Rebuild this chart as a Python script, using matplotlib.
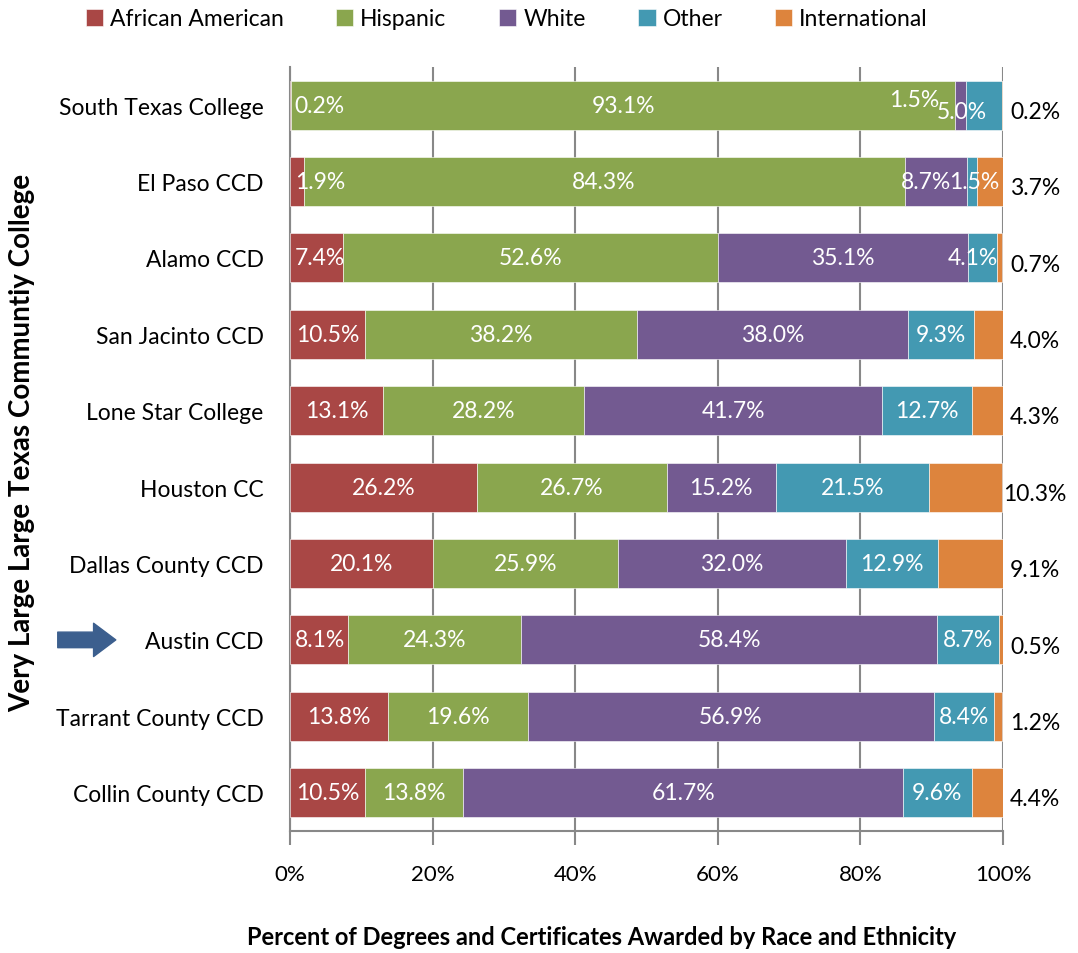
import matplotlib.pyplot as plt
import numpy as np
from matplotlib.transforms import blended_transform_factory

plt.rcParams['font.family'] = ['Lato', 'DejaVu Sans']

colleges = ['South Texas College', 'El Paso CCD', 'Alamo CCD', 'San Jacinto CCD',
            'Lone Star College', 'Houston CC', 'Dallas County CCD', 'Austin CCD',
            'Tarrant County CCD', 'Collin County CCD']
groups = ['African American', 'Hispanic', 'White', 'Other', 'International']
african_american = [0.2, 1.9, 7.4, 10.5, 13.1, 26.2, 20.1, 8.1, 13.8, 10.5]
hispanic = [93.1, 84.3, 52.6, 38.2, 28.2, 26.7, 25.9, 24.3, 19.6, 13.8]
white = [1.5, 8.7, 35.1, 38.0, 41.7, 15.2, 32.0, 58.4, 56.9, 61.7]
other = [5.0, 1.5, 4.1, 9.3, 12.7, 21.5, 12.9, 8.7, 8.4, 9.6]
international = [0.2, 3.7, 0.7, 4.0, 4.3, 10.3, 9.1, 0.5, 1.2, 4.4]

colors = ['#A94745', '#8AA64E', '#735A91', '#4399B2', '#DD843D']
series = [african_american, hispanic, white, other, international]

fig = plt.figure(figsize=(10.78, 9.54), dpi=100)
ax = fig.add_axes([0.269, 0.128, 0.6614, 0.8008])

y = np.arange(len(colleges))
left = np.zeros(len(colleges))
half = 4.2  # approx half label width in %
for k, (vals, col, name) in enumerate(zip(series, colors, groups)):
    vals = np.array(vals)
    ax.barh(y, vals, left=left, height=0.64, color=col, label=name,
            edgecolor='white', linewidth=0.4, zorder=3)
    for i, v in enumerate(vals):
        if k == 4:
            ax.text(104.5, i + 0.08, f'{v:.1f}%', ha='center', va='center',
                    fontsize=16.5, color='black', clip_on=False)
        else:
            cx = left[i] + v / 2
            cx = min(max(cx, half), 100 - half)
            dy = 0
            if i == 0 and k == 2:
                cx -= 6.5
                dy = -0.08
            if i == 0 and k == 3:
                cx -= 1.5
                dy = 0.08
            if i == 1 and k == 2:
                cx -= 1.3
            if i == 1 and k == 3:
                cx += 0.3
            ax.text(cx, i + dy, f'{v:.1f}%', ha='center', va='center',
                    fontsize=16.5, color='white', zorder=4)
    left += vals

ax.set_xlim(0, 100)
ax.set_ylim(len(colleges) - 0.5, -0.5)
ax.set_yticks(y)
ax.set_yticklabels(colleges, fontsize=16.5)
ax.tick_params(axis='y', length=0, pad=19)
ax.set_xticks([0, 20, 40, 60, 80, 100])
ax.set_xticklabels(['0%', '20%', '40%', '60%', '80%', '100%'], fontsize=16)
ax.tick_params(axis='x', length=10, width=1.5, color='#888888', pad=14)
ax.grid(axis='x', color='#888888', linewidth=1.5, zorder=0)
for s in ['top', 'right']:
    ax.spines[s].set_visible(False)
for s in ['left', 'bottom']:
    ax.spines[s].set_color('#888888')
    ax.spines[s].set_linewidth(1.5)

fig.legend(loc='upper center', bbox_to_anchor=(0.47, 1.012), ncol=5, frameon=False,
           fontsize=16.5, handlelength=0.75, handleheight=0.75, handletextpad=0.3,
           columnspacing=2.3)

fig.text(0.021, 0.536, 'Very Large Large Texas Communtiy College', rotation=90,
         ha='center', va='center', fontsize=20, fontweight='bold')
fig.text(0.558, 0.017, 'Percent of Degrees and Certificates Awarded by Race and Ethnicity',
         ha='center', va='center', fontsize=17, fontweight='bold')

# arrow pointing at Austin CCD
trans = blended_transform_factory(fig.transFigure, ax.transData)
ax.annotate('', xy=(0.110, colleges.index('Austin CCD')), xycoords=trans,
            xytext=(0.051, colleges.index('Austin CCD')), textcoords=trans,
            arrowprops=dict(arrowstyle='simple,head_length=1.0,head_width=1.5,tail_width=0.7',
                            color='#3C5F8E', mutation_scale=16))

fig.savefig('out.png', dpi=100)
